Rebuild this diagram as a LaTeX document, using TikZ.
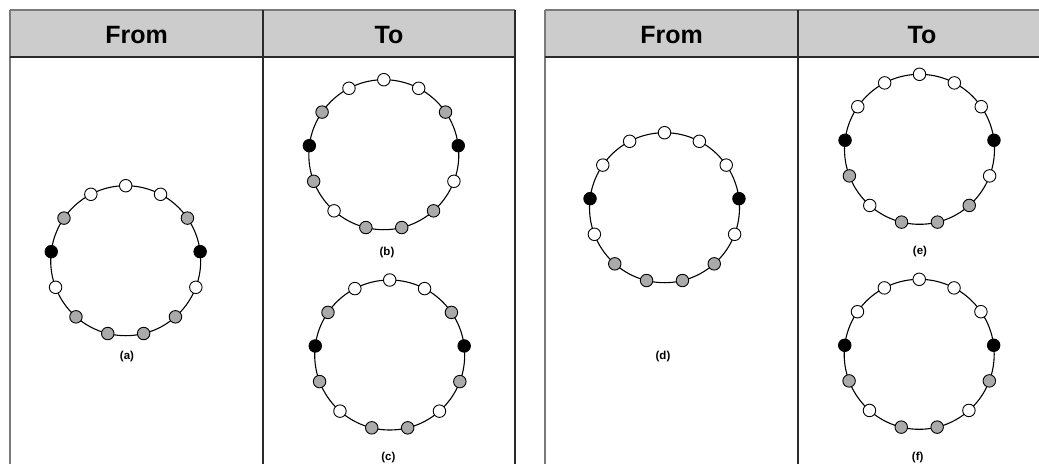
\documentclass[tikz,border=0pt]{standalone}
\usepackage{fontspec}
\setmainfont{Liberation Sans}
\usetikzlibrary{calc}
\definecolor{hdr}{HTML}{CCCCCC}
\definecolor{bg}{HTML}{AAAAAA}
\definecolor{outerline}{HTML}{7A7A7A}
\definecolor{innerline}{HTML}{2A2A2A}
\definecolor{W}{HTML}{FFFFFF}
\definecolor{B}{HTML}{000000}
\colorlet{G}{bg}
\newcommand\beadring[4]{%
  \coordinate (#1c) at (#2,#3);
  \draw[ringline] (#1c) circle[radius=75pt];
  \foreach \col [count=\k from 0] in {#4} {
    \node[bead, fill=\col] (#1\k) at ($(#1c)+({90-\k*360/13}:75pt)$) {};
  }%
}
\begin{document}
\begin{tikzpicture}[x=1pt,y=-1pt,
  hdrtext/.style={font=\fontsize{25}{25}\selectfont\bfseries, inner sep=0pt, anchor=base},
  lbl/.style={font=\fontsize{11.5}{12}\selectfont\bfseries, inner sep=0pt},
  ringline/.style={draw=black, line width=1.1pt},
  bead/.style={circle, draw=black, line width=0.9pt, minimum size=12.5pt, inner sep=0pt},
  outer/.style={draw=outerline, line width=1.6pt},
  inner/.style={draw=innerline, line width=1.4pt}]
\useasboundingbox (0,0) rectangle (1039,464);
% left table
\fill[hdr] (10,10) rectangle (515,57);
\draw[outer] (10,10) -- (515,10);
\draw[outer] (10,10) -- (10,464);
\draw[inner] (10,57) -- (515,57);
\draw[inner] (263,10) -- (263,464);
\draw[inner] (515,10) -- (515,464);
\node[hdrtext] (h1) at (136.5,43.3) {From};
\node[hdrtext] (h2) at (389,43.3) {To};
% right table
\fill[hdr] (545,10) rectangle (1039,57);
\draw[outer] (545,10) -- (1039,10);
\draw[outer] (545,10) -- (545,464);
\draw[inner] (545,57) -- (1039,57);
\draw[inner] (798,10) -- (798,464);
\node[hdrtext] (h3) at (671.5,43.3) {From};
\node[hdrtext] (h4) at (922,43.3) {To};
% rings
\beadring{a}{125.7}{260.7}{W,W,G,B,W,G,G,G,G,W,B,G,W}
\beadring{b}{383.8}{154.7}{W,W,G,B,W,G,G,G,W,G,B,G,W}
\beadring{c}{389.7}{355}{W,W,G,B,G,W,G,G,W,G,B,G,W}
\beadring{d}{664.5}{207.7}{W,W,W,B,W,G,G,G,G,W,B,W,W}
\beadring{e}{919.5}{149.3}{W,W,W,B,W,G,G,G,W,G,B,W,W}
\beadring{f}{919.2}{354.3}{W,W,W,B,G,W,G,G,W,G,B,W,W}
% labels
\node[lbl] (la) at (127,357) {(a)};
\node[lbl] (lb) at (387,252.3) {(b)};
\node[lbl] (lc) at (388.3,457.7) {(c)};
\node[lbl] (ld) at (663,357) {(d)};
\node[lbl] (le) at (920,251.7) {(e)};
\node[lbl] (lf) at (917.7,458) {(f)};
\end{tikzpicture}
\end{document}
